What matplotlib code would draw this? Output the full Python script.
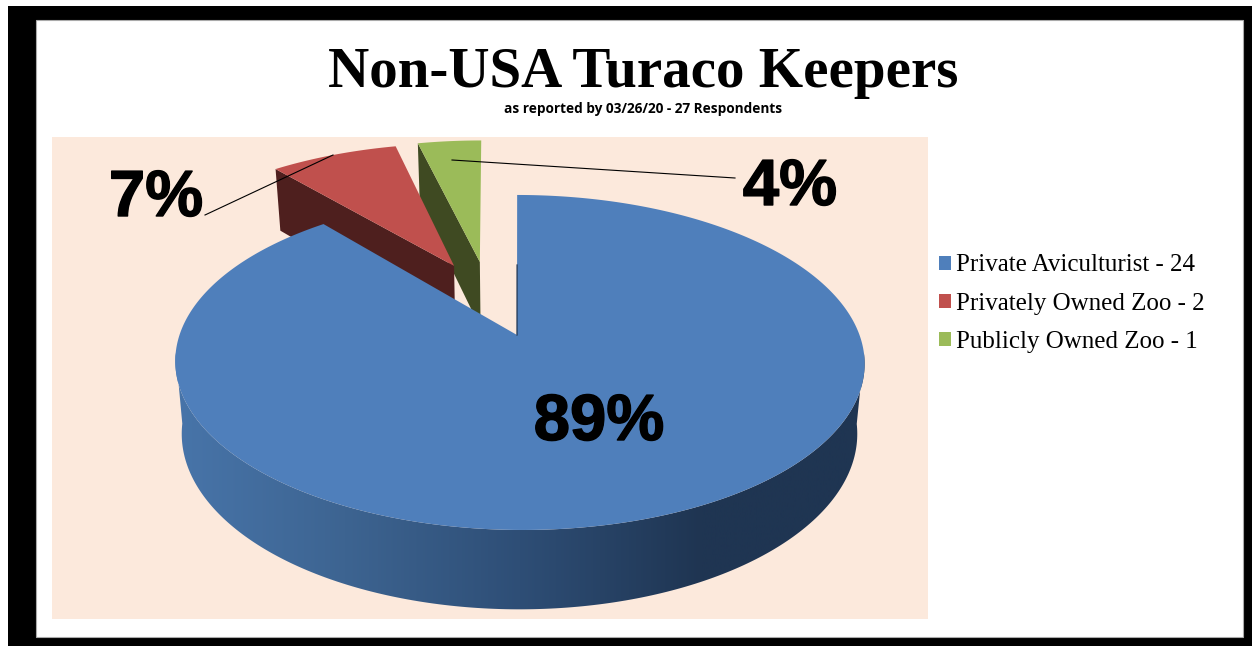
import numpy as np
import matplotlib
matplotlib.use('Agg')
import matplotlib.pyplot as plt
import matplotlib.patheffects as pe
from matplotlib.patches import Polygon, Rectangle
from matplotlib.colors import LinearSegmentedColormap

# data
categories = ['Private Aviculturist', 'Privately Owned Zoo', 'Publicly Owned Zoo']
counts = [24, 2, 1]
title = 'Non-USA Turaco Keepers'
subtitle = 'as reported by 03/26/20 - 27 Respondents'

top_colors = ['#4F7FBB', '#C0504D', '#9BBB59']
wall_colors = ['#1F3552', '#4E1F1E', '#3F4A22']

# pie geometry, all in picture pixels
cx, cy = 517, 335
A, B, k = 340, 163, 0.164
offsets = [(0, 0), (-0.199, 0.456), (-0.118, 0.484)]  # exploded slices
arc_shift = [2.5, -3, -3.5]  # outer arc sits a little off its apex


def project(u, v, drop=False):
    # circle coords -> screen, with some perspective
    w = 1 + k * v
    x = cx + A * u / w
    y = cy - B * v / w
    if drop:
        # bottom of the pie is a bit narrower than the top
        x = cx + (x - cx) * 0.98
        y = y + 70 / w ** 0.7
    return x, y


fig = plt.figure(figsize=(12.52, 6.46), dpi=100)
ax = fig.add_axes([0, 0, 1, 1])
ax.set_xlim(0, 1252)
ax.set_ylim(646, 0)
ax.axis('off')

# frame and background
ax.add_patch(Rectangle((8, 6), 1244, 640, color='black', lw=0))
ax.add_patch(Rectangle((36, 20), 1207, 617, facecolor='white', edgecolor='#aaaaaa', lw=0.8))
ax.add_patch(Rectangle((52, 137), 876, 482, color='#FCE9DC', lw=0))

# slice angles clockwise from 12 o'clock, the big one starts at the top
fracs = np.array(counts) / sum(counts)
edges = np.concatenate([[0], np.cumsum(fracs)]) * 2 * np.pi

# draw back to front: green, red, blue
for i in [2, 1, 0]:
    t = np.linspace(edges[i], edges[i + 1], 400)
    u0, v0 = offsets[i]
    u = np.sin(t) + u0
    v = np.cos(t) + v0
    xt, yt = project(u, v)
    xt = xt + arc_shift[i]
    xa, ya = project(u0, v0)
    xa2, ya2 = project(u0, v0, drop=True)

    if i == 0:
        # big slice leans slightly
        xt = xt + 0.0167 * (yt - cy)
        # rim of the big slice, dark towards the right
        xb, yb = project(u, v, drop=True)
        xb = xb + arc_shift[i]
        front = np.cos(t) < -0.1
        px = np.concatenate([xt[front], xb[front][::-1]])
        py = np.concatenate([yt[front], yb[front][::-1]])
        rim = Polygon(np.column_stack([px, py]), closed=True, facecolor='none', edgecolor='none')
        ax.add_patch(rim)
        cmap = LinearSegmentedColormap.from_list('rim', [(0, '#4875AA'), (0.25, '#3D6491'), (0.5, '#2E4E76'),
                                                         (0.76, '#1F3552'), (1, '#1F3552')])
        grad = np.linspace(0, 1, 256).reshape(1, -1)
        im = ax.imshow(grad, cmap=cmap, extent=(170, 870, 620, 190), aspect='auto', zorder=2)
        im.set_clip_path(rim)
        ax.set_xlim(0, 1252)
        ax.set_ylim(646, 0)
    else:
        # inner wall along the first radial edge of the slice
        xo, yo = project(np.sin(edges[i]) + u0, np.cos(edges[i]) + v0)
        xo2, yo2 = project(np.sin(edges[i]) + u0, np.cos(edges[i]) + v0, drop=True)
        ax.add_patch(Polygon([(xo + arc_shift[i], yo), (xa, ya), (xa2, ya2), (xo2 + arc_shift[i], yo2)], closed=True,
                             facecolor=wall_colors[i], edgecolor='none', zorder=2))

    pts = np.column_stack([np.concatenate([[xa], xt]), np.concatenate([[ya], yt])])
    ax.add_patch(Polygon(pts, closed=True, facecolor=top_colors[i], edgecolor='none', zorder=2))

    if i == 0:
        # the other wall of the big slice is seen almost edge-on
        ax.plot([(xt[0] + xa) / 2, xa], [(yt[0] + ya) / 2, ya], color=wall_colors[0], lw=0.9, zorder=2)

# leader lines
ax.plot([205, 333], [215, 155], color='black', lw=0.8, zorder=3)
ax.plot([452, 735], [160, 178], color='black', lw=0.8, zorder=3)

# percent labels
pcts = [f'{round(f * 100)}%' for f in fracs]
heavy = [pe.withStroke(linewidth=1, foreground='black')]
pct_font = dict(family='Liberation Sans', fontweight='bold', fontsize=47, ha='center', va='baseline',
                color='black', zorder=4, path_effects=heavy)
ax.text(599, 440, pcts[0], **pct_font)
ax.text(156, 216, pcts[1], **pct_font)
ax.text(790, 205, pcts[2], **pct_font)

# titles
ax.text(643, 87, title, family='Liberation Serif', fontweight='bold', fontsize=41, ha='center', va='baseline')
ax.text(643, 113, subtitle, family='Open Sans', fontweight='bold', fontsize=9.8, ha='center', va='baseline')

# legend
handles = [Rectangle((0, 0), 1, 1, color=c, lw=0) for c in top_colors]
labels = [f'{c} - {n}' for c, n in zip(categories, counts)]
ax.legend(handles, labels, loc='upper left', bbox_to_anchor=(929 / 1252, 1 - 244.5 / 646), frameon=False,
          prop={'family': 'Liberation Serif', 'size': 18}, handlelength=0.48, handleheight=0.48,
          handletextpad=0.2, labelspacing=0.65, borderpad=0.4, borderaxespad=0)

fig.savefig('out.png', dpi=100)
